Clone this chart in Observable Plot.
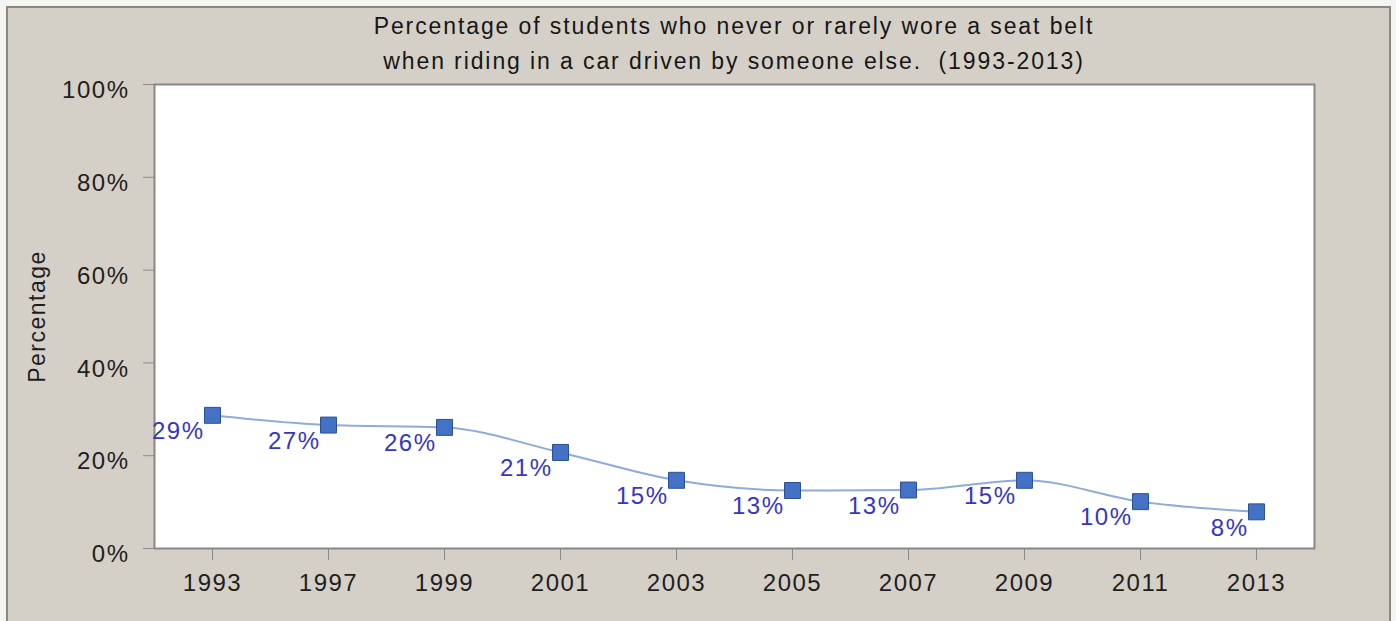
<!DOCTYPE html>
<html>
<head>
<meta charset="utf-8">
<script src="https://cdn.jsdelivr.net/npm/d3@7"></script>
<script src="https://cdn.jsdelivr.net/npm/@observablehq/plot@0.6"></script>
<style>
  html, body { margin: 0; padding: 0; background: #f4f4f2; width: 1396px; height: 621px; overflow: hidden; }
  #frame { position: absolute; left: 6px; top: 6px; width: 1381px; height: 620px; background: #d4d0c8;
           border-top: 2px solid #8a8884; border-left: 2px solid #8a8884; border-right: 2px solid #8a8884; }
  #chart { position: absolute; left: 0; top: 0; }
  #chart svg text { letter-spacing: 1.5px; }
  #title { position: absolute; left: 154px; width: 1160px; top: 9px; text-align: center;
           font-family: "Liberation Sans", Arial, sans-serif; font-size: 23px; line-height: 35px;
           color: #161616; letter-spacing: 1.9px; }
</style>
</head>
<body>
<div id="frame"></div>
<div id="chart"></div>
<div id="title">Percentage of students who never or rarely wore a seat belt<br>when riding in a car driven by someone else.&nbsp;&nbsp;(1993-2013)</div>
<script>
const years = ["1993", "1997", "1999", "2001", "2003", "2005", "2007", "2009", "2011", "2013"];
const values = [28.7, 26.6, 26.1, 20.7, 14.7, 12.5, 12.6, 14.7, 10.1, 7.9];
const yTicks = [0, 20, 40, 60, 80, 100];
const yLabel = "Percentage";

const data = years.map((year, i) => ({year, value: values[i]}));

const chart = Plot.plot({
  width: 1396,
  height: 621,
  marginLeft: 154,
  marginRight: 82,
  marginTop: 84,
  marginBottom: 73,
  style: {background: "transparent", fontFamily: "'Liberation Sans', Arial, sans-serif", color: "#1e1e1e"},
  x: {type: "point", domain: years, padding: 0.5, label: null},
  y: {domain: [0, 100], label: null},
  marks: [
    Plot.frame({fill: "white", stroke: "#878787", strokeWidth: 2}),
    // y axis ticks and labels
    Plot.axisY(yTicks, {tickSize: 11, stroke: "#8a8a8a", fill: "none", label: null}),
    Plot.axisY(yTicks, {tickSize: 0, tickPadding: 25, dy: 6, fill: "#1e1e1e", fontSize: 24, tickFormat: d => d + "%", label: null}),
    // x axis ticks and labels
    Plot.axisX(years, {tickSize: 12, stroke: "#8a8a8a", fill: "none", label: null}),
    Plot.axisX(years, {tickSize: 0, tickPadding: 25, fill: "#1e1e1e", fontSize: 24, label: null}),
    Plot.text([yLabel], {frameAnchor: "left", textAnchor: "middle", dx: -117, rotate: -90, fontSize: 23, fill: "#1e1e1e"}),
    Plot.line(data, {x: "year", y: "value", curve: "monotone-x", stroke: "#8eaade", strokeWidth: 2}),
    Plot.dot(data, {x: "year", y: "value", symbol: "square", r: 9, fill: "#4472c4", stroke: "#2c4f96", strokeWidth: 1}),
    Plot.text(data, {x: "year", y: "value", text: d => Math.round(d.value) + "%", textAnchor: "end", dx: -8, dy: 16, fontSize: 24, fill: "#3535c6"})
  ]
});
document.getElementById("chart").appendChild(chart);
</script>
</body>
</html>
